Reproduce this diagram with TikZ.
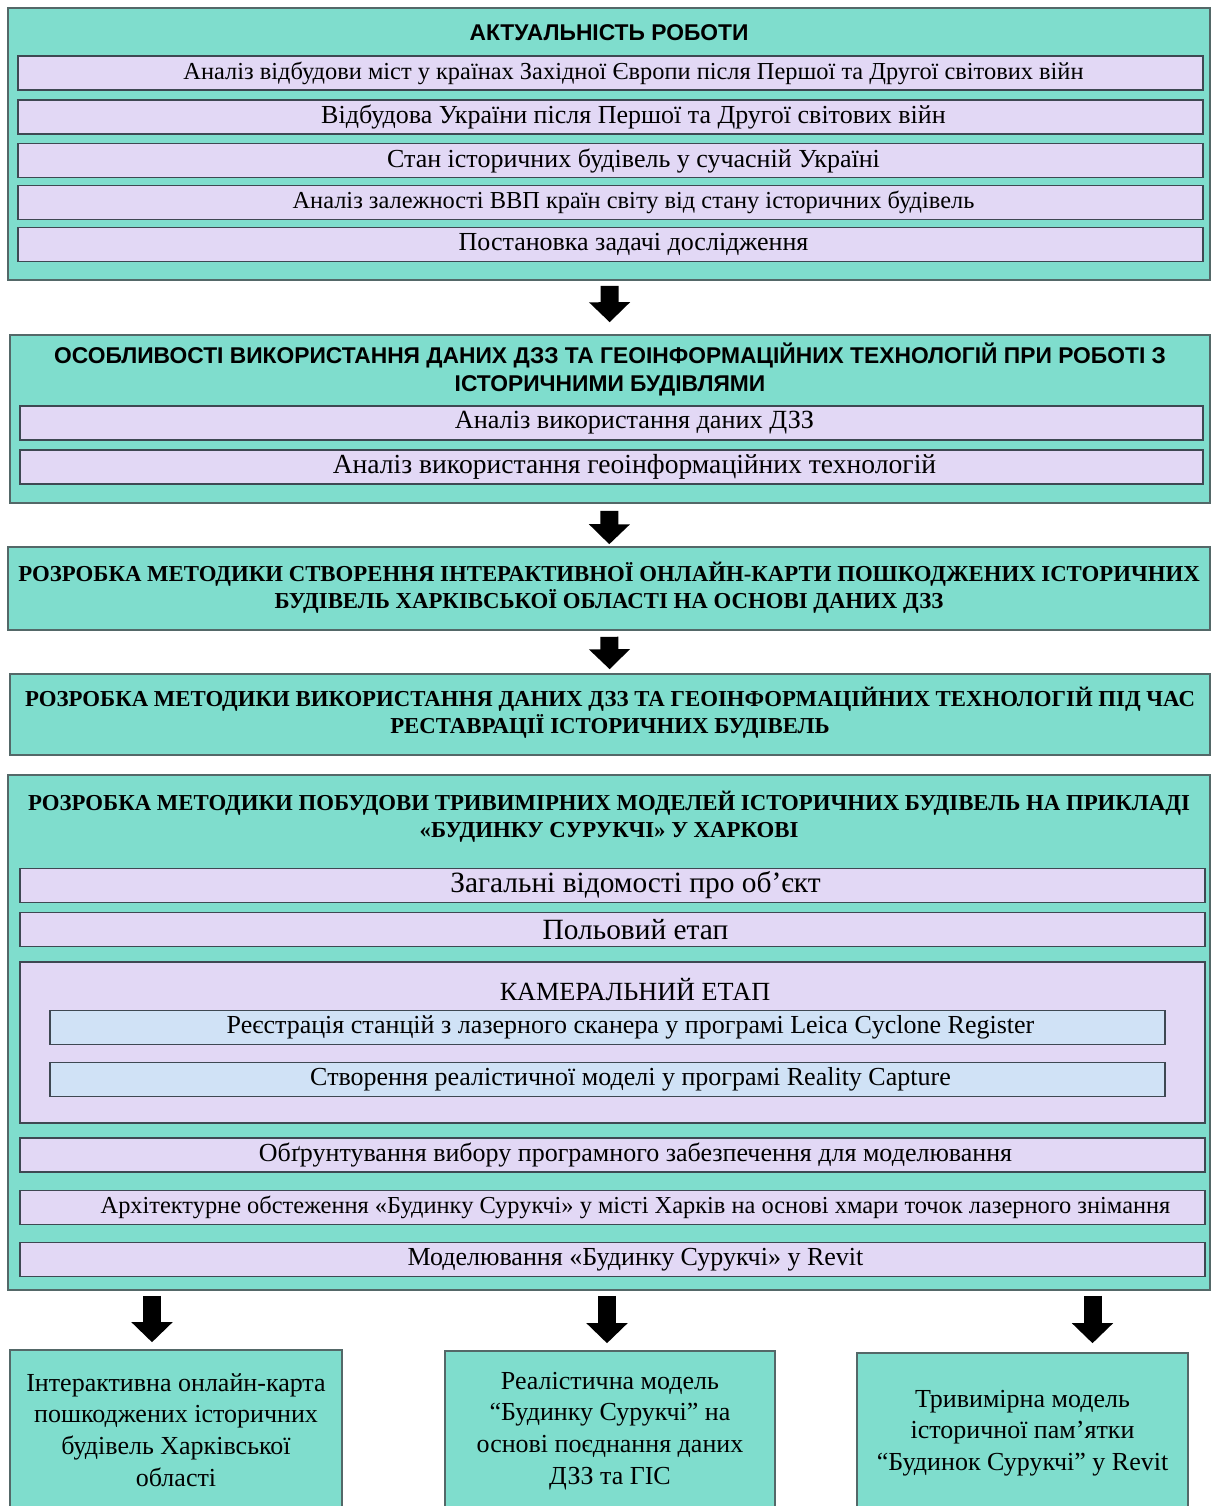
\documentclass[tikz,border=0pt]{standalone}
\usepackage{fontspec}
\setmainfont{Liberation Serif}
\newfontfamily\headsans{Liberation Sans}
\usetikzlibrary{arrows.meta}

\definecolor{tealbg}{RGB}{127,221,205}
\definecolor{lavbg}{RGB}{226,216,245}
\definecolor{bluebg}{RGB}{208,226,246}
\definecolor{framegray}{RGB}{84,104,104}
\definecolor{rowedge}{RGB}{62,72,82}

\tikzset{
  stagebox/.style={draw=framegray, fill=tealbg, line width=0.8pt, inner sep=0pt},
  rowbox/.style={draw=rowedge, fill=lavbg, line width=0.8pt, inner sep=0pt,
    minimum width=592.5pt, minimum height=17pt, font=\fontsize{13}{15}\selectfont,
    execute at begin node={\hspace*{23pt}}},
  subbox/.style={rowbox, fill=bluebg, minimum width=557.5pt},
  headsans/.style={font=\headsans\bfseries\fontsize{11.4}{14}\selectfont, align=center},
  headserif/.style={font=\bfseries\fontsize{11.4}{13.5}\selectfont, align=center},
  resbox/.style={stagebox, minimum width=166pt, minimum height=80pt, align=center,
    font=\fontsize{13}{15.9}\selectfont},
  bigarrow/.style={line width=9pt, -{Triangle[width=20pt,length=10pt]}, black}
}

\begin{document}
\begin{tikzpicture}[x=0.5pt,y=-0.5pt]
  \useasboundingbox[fill=white] (0,0) rectangle (1211,1506);

  % актуальність
  \node[stagebox, minimum width=601pt, minimum height=136pt] (aktual) at (609,144) {};
  \node[headsans] (aktualT) at (609,33) {АКТУАЛЬНІСТЬ РОБОТИ};
  \foreach \y/\s/\t [count=\i] in {
      73/12.2/{Аналіз відбудови міст у країнах Західної Європи після Першої та Другої світових війн},
      117/13/{Відбудова України після Першої та Другої світових війн},
      160.5/13/{Стан історичних будівель у сучасній Україні},
      202.5/12.2/{Аналіз залежності ВВП країн світу від стану історичних будівель},
      244.5/13/{Постановка задачі дослідження}}
    \node[rowbox, font=\fontsize{\s}{15}\selectfont] (ak\i) at (610.5,\y) {\t};

  % ДЗЗ та ГІС
  \node[stagebox, minimum width=600pt, minimum height=84pt] (osob) at (610,419) {};
  \node[headsans] (osobT) at (610,369) {ОСОБЛИВОСТІ ВИКОРИСТАННЯ ДАНИХ ДЗЗ ТА ГЕОІНФОРМАЦІЙНИХ ТЕХНОЛОГІЙ ПРИ РОБОТІ З\\ІСТОРИЧНИМИ БУДІВЛЯМИ};
  \node[rowbox, minimum width=591.5pt, font=\fontsize{13.1}{15}\selectfont] (os1) at (611.5,423) {Аналіз використання даних ДЗЗ};
  \node[rowbox, minimum width=591.5pt, font=\fontsize{13.8}{15}\selectfont] (os2) at (611.5,467) {Аналіз використання геоінформаційних технологій};

  % онлайн-карта
  \node[stagebox, minimum width=601pt, minimum height=41.5pt] (karta) at (609,588.5) {};
  \node[headserif] (kartaT) at (609,587.5) {РОЗРОБКА МЕТОДИКИ СТВОРЕННЯ ІНТЕРАКТИВНОЇ ОНЛАЙН-КАРТИ ПОШКОДЖЕНИХ ІСТОРИЧНИХ\\БУДІВЕЛЬ ХАРКІВСЬКОЇ ОБЛАСТІ НА ОСНОВІ ДАНИХ ДЗЗ};

  % реставрація
  \node[stagebox, minimum width=600pt, minimum height=40.5pt] (restavr) at (610,714.5) {};
  \node[headserif] (restavrT) at (610,713) {РОЗРОБКА МЕТОДИКИ ВИКОРИСТАННЯ ДАНИХ ДЗЗ ТА ГЕОІНФОРМАЦІЙНИХ ТЕХНОЛОГІЙ ПІД ЧАС\\РЕСТАВРАЦІЇ ІСТОРИЧНИХ БУДІВЕЛЬ};

  % будинок Сурукчі
  \node[stagebox, minimum width=601pt, minimum height=257.5pt] (surukchi) at (609,1032.5) {};
  \node[headserif] (surukchiT) at (609,816.5) {РОЗРОБКА МЕТОДИКИ ПОБУДОВИ ТРИВИМІРНИХ МОДЕЛЕЙ ІСТОРИЧНИХ БУДІВЕЛЬ НА ПРИКЛАДІ\\«БУДИНКУ СУРУКЧІ» У ХАРКОВІ};
  \node[rowbox, font=\fontsize{14.7}{16}\selectfont] (su1) at (612.5,885.5) {Загальні відомості про об’єкт};
  \node[rowbox, font=\fontsize{14.7}{16}\selectfont] (su2) at (612.5,929.5) {Польовий етап};
  \node[rowbox, minimum height=80.5pt] (kamer) at (612.5,1042.5) {};
  \node[font=\fontsize{13.1}{16}\selectfont] (kamerT) at (635,990) {КАМЕРАЛЬНИЙ ЕТАП};
  \node[subbox] (ka1) at (607.5,1027.5) {Реєстрація станцій з лазерного сканера у програмі Leica Cyclone Register};
  \node[subbox] (ka2) at (607.5,1079.5) {Створення реалістичної моделі у програмі Reality Capture};
  \node[rowbox] (su3) at (612.5,1155) {Обґрунтування вибору програмного забезпечення для моделювання};
  \node[rowbox, font=\fontsize{12.2}{15}\selectfont] (su4) at (612.5,1207.5) {Архітектурне обстеження «Будинку Сурукчі» у місті Харків на основі хмари точок лазерного знімання};
  \node[rowbox] (su5) at (612.5,1259.5) {Моделювання «Будинку Сурукчі» у Revit};

  % результати
  \node[resbox] (resA) at (176,1430) {Інтерактивна онлайн-карта\\пошкоджених історичних\\будівель Харківської\\області};
  \node[resbox, minimum width=165pt] (resB) at (610,1431) {Реалістична модель\\“Будинку Сурукчі” на\\основі поєднання даних\\ДЗЗ та ГІС};
  \node[resbox, minimum width=165.5pt] (resC) at (1022.5,1433) {Тривимірна модель\\історичної пам’ятки\\“Будинок Сурукчі” у Revit};

  % стрілки
  \draw[bigarrow, shorten <=2.5pt, shorten >=6pt] (aktual) -- (osob);
  \draw[bigarrow, shorten <=3.5pt, shorten >=1pt] (osob) -- (karta);
  \draw[bigarrow, shorten <=3pt, shorten >=2pt] (karta) -- (restavr);
  \draw[bigarrow, shorten <=2.5pt, shorten >=3.5pt] ([xshift=-12pt]resA.north |- surukchi.south) -- ([xshift=-12pt]resA.north);
  \draw[bigarrow, shorten <=2.5pt, shorten >=3.5pt] ([xshift=-1.5pt]resB.north |- surukchi.south) -- ([xshift=-1.5pt]resB.north);
  \draw[bigarrow, shorten <=2.5pt, shorten >=4.5pt] ([xshift=35pt]resC.north |- surukchi.south) -- ([xshift=35pt]resC.north);
\end{tikzpicture}
\end{document}
